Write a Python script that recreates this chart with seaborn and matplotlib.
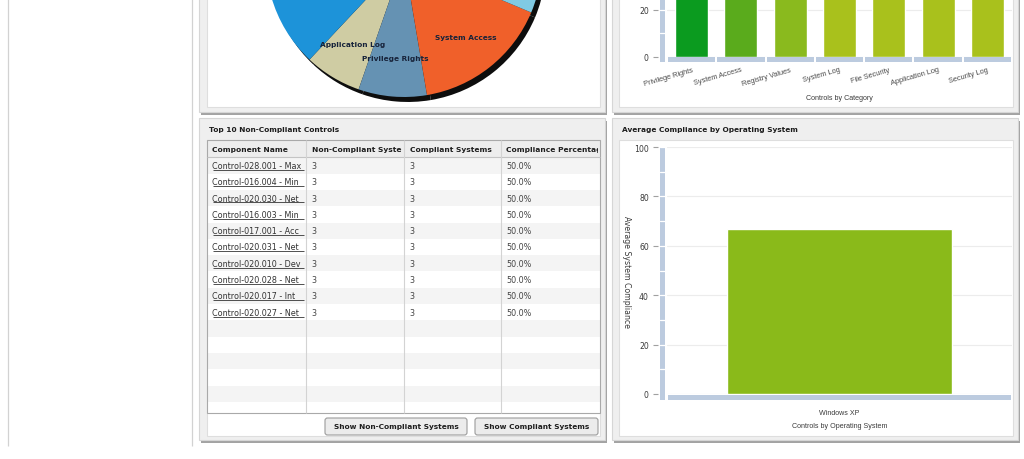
import matplotlib
matplotlib.use("Agg")
import matplotlib.pyplot as plt
import seaborn as sns
from matplotlib.patches import Rectangle, FancyBboxPatch
from matplotlib.transforms import blended_transform_factory, Bbox

# ---------------- data ----------------
pie_categories = ["Application Log", "Privilege Rights", "System Access", "Security Log",
                  "System Log", "File Security", "Registry Values"]
pie_counts = [10, 12, 24, 26, 27, 25, 26]
pie_colors = ["#cfcca3", "#6592b3", "#f0602a", "#80cae3", "#f5c132", "#9ccb4a", "#1d93d9"]

cat_categories = ["Privilege Rights", "System Access", "Registry Values", "System Log",
                  "File Security", "Application Log", "Security Log"]
cat_values = [60, 58, 55, 52, 50, 48, 46]
cat_colors = ["#0b9b1f", "#5aab1c", "#8aba1e", "#a9c11c", "#a9c11c", "#a9c11c", "#a9c11c"]

os_names = ["Windows XP"]
os_compliance = [66.7]
os_colors = ["#8aba1a"]

table_columns = ["Component Name", "Non-Compliant Systems", "Compliant Systems", "Compliance Percentage"]
control_names = ["Control-028.001 - Maximum", "Control-016.004 - Minimum", "Control-020.030 - Network",
                 "Control-016.003 - Minimum", "Control-017.001 - Account", "Control-020.031 - Network",
                 "Control-020.010 - Devices", "Control-020.028 - Network", "Control-020.017 - Interactive",
                 "Control-020.027 - Network"]
non_compliant_systems = [3, 3, 3, 3, 3, 3, 3, 3, 3, 3]
compliant_systems = [3, 3, 3, 3, 3, 3, 3, 3, 3, 3]
compliance_pct = ["50.0%", "50.0%", "50.0%", "50.0%", "50.0%", "50.0%", "50.0%", "50.0%", "50.0%", "50.0%"]
button_labels = ["Show Non-Compliant Systems", "Show Compliant Systems"]

# ---------------- setup ----------------
sns.set_style("white")
plt.rcParams["font.family"] = ["DejaVu Sans"]
W, H = 1024, 460
fig = plt.figure(figsize=(W / 100, H / 100), dpi=100)
fig.patch.set_facecolor("white")


def px_axes(x0, ytop, x1, ybot, **kw):
    return fig.add_axes([x0 / W, 1 - ybot / H, (x1 - x0) / W, (ybot - ytop) / H], **kw)


bg = px_axes(0, 0, W, H, zorder=0)
bg.set_xlim(0, W)
bg.set_ylim(H, 0)
bg.axis("off")

# sidebar lines
bg.vlines([8, 192], 0, 447, color="#d2d2d2", lw=0.9)


def panel(x0, y0, x1, y1):
    bg.add_patch(Rectangle((x0 + 2, y0 + 3), x1 - x0, y1 - y0, fc="#a3a3a3", ec="none"))
    bg.add_patch(Rectangle((x0, y0), x1 - x0, y1 - y0, fc="#efefef", ec="#d6d6d6", lw=0.8))


def white_box(x0, y0, x1, y1):
    bg.add_patch(Rectangle((x0, y0), x1 - x0, y1 - y0, fc="white", ec="#dedede", lw=0.8))


panel(199, -20, 605, 113)
panel(612, -20, 1018, 113)
panel(199, 119, 605, 441)
panel(612, 119, 1018, 441)
white_box(207, -20, 600, 108)
white_box(619, -20, 1013, 108)
white_box(207, 141, 600, 437)
white_box(619, 141, 1013, 437)

title_kw = dict(fontsize=5.3, fontweight="bold", color="#1c1c1c", va="center", ha="left")
bg.text(209, 130, "Top 10 Non-Compliant Controls", **title_kw)
bg.text(622, 130, "Average Compliance by Operating System", **title_kw)

# ---------------- table ----------------
col_edges = [207, 306, 404, 501, 600]
t_top, h_bot, t_bot = 141, 158.3, 414
row_h = 16.3
i = 0
while h_bot + i * row_h < t_bot:
    y = h_bot + i * row_h
    hh = min(row_h, t_bot - y)
    bg.add_patch(Rectangle((207, y), 393, hh, fc="#f4f4f4" if i % 2 == 0 else "white", ec="none"))
    i += 1
bg.add_patch(Rectangle((207, t_top), 393, h_bot - t_top, fc="#ededed", ec="none"))
bg.hlines(h_bot, 207, 600, color="#c4c4c4", lw=0.8)
bg.vlines(col_edges[1:-1], t_top, t_bot, color="#d3d3d3", lw=0.8)
bg.add_patch(Rectangle((207, t_top), 393, t_bot - t_top, fc="none", ec="#a9a9a9", lw=0.8))


def cell_text(j, yc, s, size, nchar=None, **kw):
    x0, x1 = col_edges[j], col_edges[j + 1]
    if nchar is not None:
        s = s[:nchar]
    t = bg.text(x0 + 5.5, yc, s, va="center", ha="left", fontsize=size, **kw)
    pts = bg.transData.transform([[x0 + 1, yc - 8], [x1 - 2, yc + 8]])
    box = Bbox.from_extents(min(pts[0][0], pts[1][0]), min(pts[0][1], pts[1][1]),
                            max(pts[0][0], pts[1][0]), max(pts[0][1], pts[1][1]))
    t.set_clip_box(box)
    t.set_clip_on(True)
    return t


for j, name in enumerate(table_columns):
    cell_text(j, (t_top + h_bot) / 2, name, 5.4, nchar=20, fontweight="bold", color="#1e1e1e")

for r in range(len(control_names)):
    yc = h_bot + (r + 0.5) * row_h
    cell_text(0, yc, control_names[r], 5.8, nchar=21, color="#333333")
    bg.hlines(yc + 4.4, col_edges[0] + 5.5, col_edges[1] - 2, color="#333333", lw=0.6)
    cell_text(1, yc, str(non_compliant_systems[r]), 5.8, color="#444444")
    cell_text(2, yc, str(compliant_systems[r]), 5.8, color="#444444")
    cell_text(3, yc, compliance_pct[r], 5.8, color="#444444")

for (bx0, bx1), lab in zip([(325, 467), (475, 598)], button_labels):
    bg.add_patch(FancyBboxPatch((bx0, 419), bx1 - bx0, 17, boxstyle="round,pad=0,rounding_size=2.5",
                                fc="#ececec", ec="#9c9c9c", lw=0.8))
    bg.text((bx0 + bx1) / 2, 427.5, lab, ha="center", va="center", fontsize=5.3,
            fontweight="bold", color="#1e1e1e")

# ---------------- pie ----------------
R = 138
cx, cy = 404, -40
pe = 1.06
ax_pie = px_axes(cx - R * pe, cy - R * pe, cx + R * pe, cy + R * pe, zorder=2)
wedges, texts = ax_pie.pie(pie_counts, colors=pie_colors, labels=pie_categories, startangle=226.8,
                           labeldistance=0.72, wedgeprops=dict(linewidth=0),
                           shadow=dict(ox=0.02, oy=-0.026, shade=1.0, alpha=0.95),
                           textprops=dict(fontsize=5.3, fontweight="bold", color="#17233a"))
for t in texts:
    t.set_ha("center")
    t.set_va("center")
ax_pie.set_xlim(-pe, pe)
ax_pie.set_ylim(-pe, pe)
ax_pie.set_facecolor("none")
ax_pie.axis("off")

# ---------------- bar chart helpers ----------------
STRIP = "#bccbdf"


def style_bar_axes(ax, x0, x1, ytop, ybot, yticks, ymax):
    ax_w, ax_h = x1 - x0, ybot - ytop
    ax.set_facecolor("none")
    for s in ax.spines.values():
        s.set_visible(False)
    ax.spines["left"].set_position(("outward", 9 * 0.72))
    ax.set_yticks(yticks)
    ax.tick_params(axis="y", which="major", length=5 * 0.72, width=0.8, color="#a0a0a0",
                   pad=3, labelsize=5.6, labelcolor="#3a3a3a", left=True)
    ax.yaxis.grid(True, color="#ececec", lw=0.8)
    ax.set_axisbelow(True)
    # vertical strip to the left of the plot area
    ax.add_patch(Rectangle((-7 / ax_w, -5.5 / ax_h), 5 / ax_w, 1 + 5.5 / ax_h, transform=ax.transAxes,
                           fc=STRIP, ec="none", clip_on=False, zorder=1))
    tr = blended_transform_factory(ax.transAxes, ax.transData)
    for v in range(10, int(ymax) + 1, 10):
        ax.plot([-7.5 / ax_w, -1.5 / ax_w], [v, v], transform=tr, color="white", lw=0.9,
                clip_on=False, zorder=1.5)
    # category bands below the axis
    trb = blended_transform_factory(ax.transData, ax.transAxes)
    n = len(ax.get_xticks())
    gap = 1 / (ax_w / n)
    for k in range(n):
        ax.add_patch(Rectangle((k - 0.5 + gap, -5.5 / ax_h), 1 - 2 * gap, 5 / ax_h, transform=trb,
                               fc=STRIP, ec="none", clip_on=False, zorder=1))
    ax.set_xlim(-0.5, n - 0.5)
    ax.set_ylim(0, ymax)


# ---------------- top-right: controls by category ----------------
x0c, x1c, ybotc = 667, 1012, 57.5
pxu = 2.35
ytopc = ybotc - 200
ax_cat = px_axes(x0c, ytopc, x1c, ybotc, zorder=2)
sns.barplot(x=cat_categories, y=cat_values, hue=cat_categories, palette=cat_colors, order=cat_categories,
            hue_order=cat_categories, legend=False, width=0.67, saturation=1, ax=ax_cat, zorder=2)
style_bar_axes(ax_cat, x0c, x1c, ytopc, ybotc, [0, 20, 40, 60, 80], 200 / pxu)
ax_cat.tick_params(axis="x", length=0, pad=9.5 * 0.72)
for t in ax_cat.get_xticklabels():
    t.set_rotation(16)
    t.set_ha("right")
    t.set_rotation_mode("anchor")
    t.set_fontsize(5.3)
    t.set_family("Liberation Sans")
    t.set_color("#4a4a4a")
ax_cat.set_xlabel("Controls by Category", fontsize=5.1, family="Liberation Sans", color="#3a3a3a")
ax_cat.xaxis.set_label_coords(0.5, -(98 - ybotc) / 200)
ax_cat.xaxis.label.set_va("center")
ax_cat.set_ylabel("")

# ---------------- bottom-right: compliance by OS ----------------
x0o, x1o, ytopo, yboto = 667, 1012, 148, 395
ax_os = px_axes(x0o, ytopo, x1o, yboto, zorder=2)
sns.barplot(x=os_names, y=os_compliance, hue=os_names, palette=os_colors, legend=False, width=0.65,
            saturation=1, ax=ax_os, zorder=2)
style_bar_axes(ax_os, x0o, x1o, ytopo, yboto, [0, 20, 40, 60, 80, 100], 100)
ax_os.tick_params(axis="x", length=0, pad=15 * 0.72)
for t in ax_os.get_xticklabels():
    t.set_fontsize(5.1)
    t.set_family("Liberation Sans")
    t.set_color("#3a3a3a")
ax_os.set_xlabel("Controls by Operating System", fontsize=5.1, family="Liberation Sans", color="#3a3a3a")
ax_os.xaxis.set_label_coords(0.5, -(427 - yboto) / (yboto - ytopo))
ax_os.xaxis.label.set_va("center")
ax_os.set_ylabel("Average System Compliance", fontsize=5.6, color="#3a3a3a", rotation=-90)
ax_os.yaxis.set_label_coords(-(667 - 626) / (x1o - x0o), 0.5)
ax_os.yaxis.label.set_va("center")
ax_os.yaxis.label.set_ha("center")

fig.savefig("out.png", dpi=100, facecolor="white")
